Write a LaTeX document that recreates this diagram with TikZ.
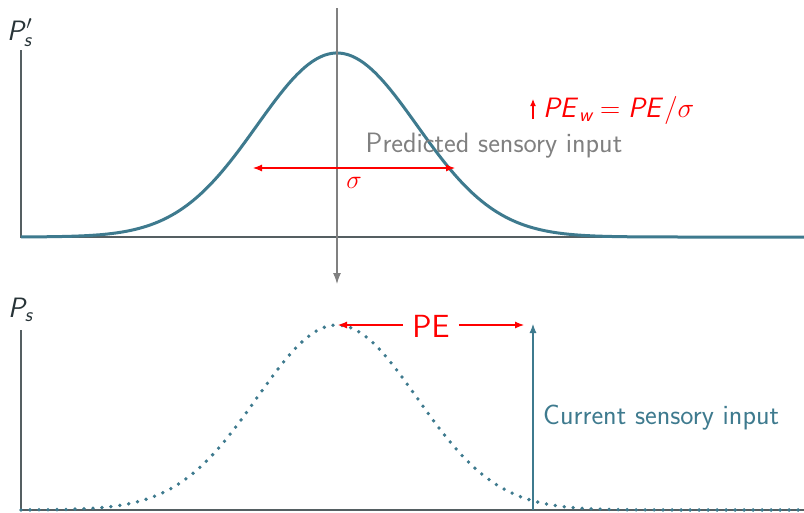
\RequirePackage{fix-cm}
\documentclass[tikz,border=0pt]{standalone}
\usetikzlibrary{arrows.meta}
\DeclareMathAlphabet{\mathsfit}{OT1}{cmss}{m}{sl}
\definecolor{teal1}{RGB}{62,122,142}
\definecolor{axisc}{RGB}{85,95,98}
\definecolor{labc}{RGB}{40,52,56}
\newcommand\sv[1]{\mathsfit{#1}}
\newcommand\sbs[1]{\mbox{\fontsize{20}{22}\selectfont\sffamily\itshape #1}}
\tikzset{
  axisline/.style={draw=axisc, line width=1.3pt},
  curve/.style={draw=teal1, line width=3pt},
  redarrow/.style={draw=red, line width=1.1pt, -{Latex[length=9pt,width=7pt]}},
  lbl/.style={inner sep=0pt, font=\fontsize{28}{32}\selectfont\sffamily}
}
\begin{document}
\begin{tikzpicture}[x=1pt,y=-1pt]
\useasboundingbox (0,0) rectangle (804,512);
% top axes
\coordinate (t0) at (21,237);
\coordinate (ttop) at (21,50);
\coordinate (tend) at (804,237);
\draw[axisline] (ttop) -- (t0) -- (tend);
\node[lbl, text=labc, anchor=base west] (pps) at (7,40) {$\sv{P}'_{\sbs{s}}$};
% top gaussian
\draw[curve] plot[domain=21:804, samples=200] (\x, {237-184*exp(-0.5*((\x-337)/80)^2)});
% gray vertical
\coordinate (gtop) at (337,8);
\coordinate (gbot) at (337,284);
\draw[gray, line width=1.1pt, -{Latex[length=11pt,width=8pt]}] (gtop) -- (gbot);
% sigma arrow
\coordinate (sl) at (253,168);
\coordinate (sr) at (455,168);
\draw[redarrow, {Latex[length=9pt,width=7pt]}-{Latex[length=9pt,width=7pt]}] (sl) -- (sr);
\node[lbl, text=red, font=\fontsize{26}{28}\selectfont] (sig) at (354,183) {$\sigma$};
\node[lbl, text=gray, anchor=base] (pred) at (494,152) {Predicted sensory input};
% PE_w
\coordinate (wb) at (533,119);
\coordinate (wt) at (533,99);
\draw[red, line width=1.1pt, -{Latex[length=7pt,width=6pt]}] (wb) -- (wt);
\node[lbl, text=red, anchor=base west, font=\fontsize{28}{32}\selectfont] (pew) at (543,117) {$\sv{PE}_{\sbs{w}} = \sv{PE}/\sigma$};
% bottom axes
\coordinate (b0) at (21,510);
\coordinate (btop) at (21,330);
\coordinate (bend) at (804,510);
\draw[axisline] (btop) -- (b0) -- (bend);
\node[lbl, text=labc, anchor=base west] (ps) at (8,317) {$\sv{P}_{\sbs{s}}$};
% bottom dotted gaussian
\draw[draw=teal1, line width=3.8pt, line cap=round, dash pattern=on 0pt off 9pt] plot[domain=21:804, samples=200] (\x, {510-185*exp(-0.5*((\x-337)/80)^2)});
% current input arrow
\coordinate (cb) at (533,510);
\coordinate (ct) at (533,324);
\draw[draw=teal1, line width=1.1pt, -{Latex[length=9pt,width=7pt]}] (cb) -- (ct);
\node[lbl, text=teal1, anchor=base west] (cur) at (543,424) {Current sensory input};
% PE arrows
\node[lbl, text=red, font=\fontsize{32}{36}\selectfont\sffamily, inner xsep=9pt, anchor=base] (pe) at (431,337) {PE};
\coordinate (pel) at (338,325);
\coordinate (per) at (524,325);
\draw[redarrow] (pe.west |- pel) -- (pel);
\draw[redarrow] (pe.east |- per) -- (per);
\end{tikzpicture}
\end{document}
